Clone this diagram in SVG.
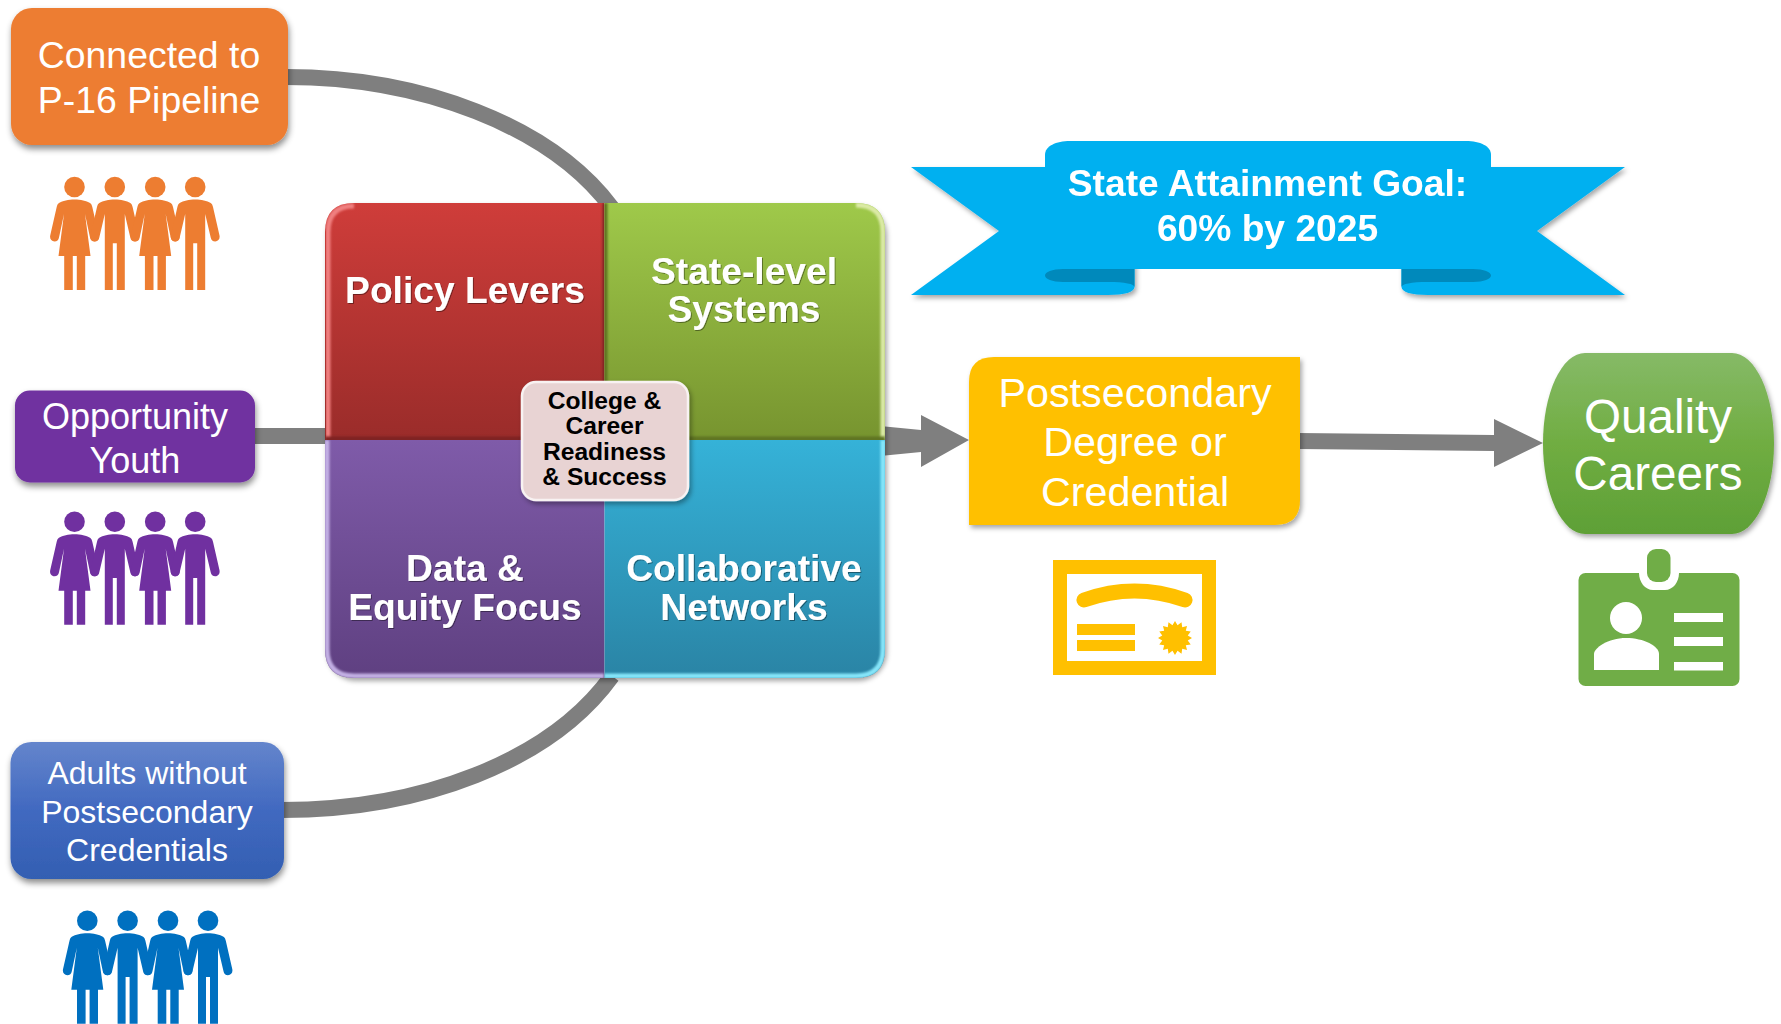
<svg xmlns="http://www.w3.org/2000/svg" width="1781" height="1024" viewBox="0 0 1781 1024">
<style>
text{font-family:"Liberation Sans",Arial,sans-serif;text-anchor:middle;fill:#fff}
.b{font-weight:bold}
.q{font-weight:bold;font-size:37.2px;filter:url(#ts)}
.c{font-weight:bold;font-size:24.6px;fill:#000}
.conn{fill:none;stroke:#7f7f7f}
.bev{fill:none;stroke-width:5;filter:url(#soft)}
</style>
<defs>
<filter id="sh" x="-10%" y="-10%" width="125%" height="130%"><feDropShadow dx="1" dy="4" stdDeviation="3" flood-color="#000" flood-opacity=".45"/></filter>
<filter id="sh2" x="-5%" y="-5%" width="110%" height="112%"><feDropShadow dx="2" dy="3" stdDeviation="2.5" flood-color="#000" flood-opacity=".35"/></filter>
<filter id="ts" x="-5%" y="-10%" width="110%" height="125%"><feDropShadow dx="1" dy="1" stdDeviation=".7" flood-color="#000" flood-opacity=".4"/></filter>
<filter id="soft" x="-5%" y="-5%" width="110%" height="110%"><feGaussianBlur stdDeviation="1"/></filter>
<linearGradient id="gr" x1="0" y1="0" x2="0" y2="1"><stop offset="0" stop-color="#cf3d3a"/><stop offset="1" stop-color="#9a2c2a"/></linearGradient>
<linearGradient id="gg" x1="0" y1="0" x2="0" y2="1"><stop offset="0" stop-color="#9fc94a"/><stop offset="1" stop-color="#77942f"/></linearGradient>
<linearGradient id="gp" x1="0" y1="0" x2="0" y2="1"><stop offset="0" stop-color="#7f5ba9"/><stop offset="1" stop-color="#5f4081"/></linearGradient>
<linearGradient id="gt" x1="0" y1="0" x2="0" y2="1"><stop offset="0" stop-color="#35b2d8"/><stop offset="1" stop-color="#2a84a5"/></linearGradient>
<linearGradient id="gb" x1="0" y1="0" x2="0" y2="1"><stop offset="0" stop-color="#6485cc"/><stop offset=".5" stop-color="#4169c0"/><stop offset="1" stop-color="#335fb2"/></linearGradient>
<linearGradient id="gq" x1="0" y1="0" x2="0" y2="1"><stop offset="0" stop-color="#86ba67"/><stop offset=".5" stop-color="#70ad42"/><stop offset="1" stop-color="#5ea036"/></linearGradient>
<clipPath id="cr"><path d="M604.5,203H354Q325,203 325,232V440H604.5Z"/></clipPath>
<clipPath id="cg"><path d="M604.5,203H856Q885,203 885,232V440H604.5Z"/></clipPath>
<clipPath id="cp"><path d="M604.5,678H354Q325,678 325,649V440H604.5Z"/></clipPath>
<clipPath id="ct"><path d="M604.5,678H856Q885,678 885,649V440H604.5Z"/></clipPath>
<g id="woman"><circle r="10.3"/><path d="M0,12.5C6,12.5 12,14 15.5,16C16.8,16.8 17.3,18 17.8,20L24.3,48.500C25,52 23,54.500 20,54.500C17.5,54.500 16,53 15.500,50.500L10.500,27L16,69H10.700V103H2.300V69H-1.700V103H-10.300V69H-16L-10.500,27L-15.500,50.500C-16,53 -17.500,54.500 -20,54.500C-23,54.500 -25,52 -24.300,48.500L-17.800,20C-17.300,18 -16.800,16.800 -15.500,16C-12,14 -6,12.500 0,12.500Z"/></g>
<g id="man"><circle r="10.3"/><path d="M0,12.5C6,12.5 12,14 15.5,16C16.8,16.8 17.3,18 17.8,20L24.3,48.500C25,52 23,54.500 20,54.500C17.5,54.500 16,53 15.500,50.500L10,27V103H2V56.300H-2V103H-10V27L-15.500,50.500C-16,53 -17.500,54.500 -20,54.500C-23,54.500 -25,52 -24.300,48.500L-17.800,20C-17.300,18 -16.800,16.800 -15.500,16C-12,14 -6,12.500 0,12.500Z"/></g>
<g id="people"><use href="#woman"/><use href="#man" x="40.3"/><use href="#woman" x="80.7"/><use href="#man" x="120.7"/></g>
<g id="tail"><path d="M911,167H1134.5V287C1134.5,292 1125,295 1108,295H911L999,231Z" fill="#00b0f0"/></g>
</defs>

<g id="connectors">
<path class="conn" stroke-width="16" d="M286,77C420,77 550,125 612,208"/>
<path class="conn" stroke-width="16" d="M282,810C420,810 550,762 612,676"/>
<path class="conn" stroke-width="16" d="M252,436H330"/>
<path d="M880,426L921,430V415L969,440L921,467V452L880,456Z" fill="#7f7f7f"/>
<path d="M1298,433L1494,435V419L1543,443L1494,467V451L1298,449Z" fill="#7f7f7f"/>
</g>

<g id="node-pipeline"><rect x="11" y="8" width="277" height="137" rx="21" fill="#ed7d31" filter="url(#sh)"/>
<text x="149" y="68" font-size="37.4">Connected to</text><text x="149" y="113" font-size="37.4">P-16 Pipeline</text></g>
<g id="people-orange" fill="#ed7d31"><use href="#people" transform="translate(74.5,187)"/></g>

<g id="node-youth"><rect x="15" y="390.500" width="240" height="92" rx="15" fill="#7030a0" filter="url(#sh)"/>
<text x="135" y="429" font-size="36">Opportunity</text><text x="135" y="473" font-size="36">Youth</text></g>
<g id="people-purple" fill="#7030a0"><use href="#people" transform="translate(74.5,521.7)"/></g>

<g id="node-adults"><rect x="10.500" y="742" width="273.500" height="137" rx="21" fill="url(#gb)" filter="url(#sh)"/>
<text x="147" y="784" font-size="32">Adults without</text><text x="147" y="823" font-size="32">Postsecondary</text><text x="147" y="861" font-size="32">Credentials</text></g>
<g id="people-blue" fill="#0070c0"><use href="#people" transform="translate(87.3,920.7)"/></g>

<g id="node-matrix">
<rect x="325" y="203" width="560" height="475" rx="29" fill="#fff" filter="url(#sh2)"/>
<g id="q-policy"><path d="M604.5,203H354Q325,203 325,232V440H604.5Z" fill="url(#gr)"/>
<g clip-path="url(#cr)"><path class="bev" stroke="#f08080" d="M328,440V232Q328,206 354,206"/><path class="bev" stroke="#f9b0b0" stroke-width="2" d="M354,204H604"/><path class="bev" stroke="#7e2220" stroke-width="3" d="M325,439H605V203"/></g>
<text class="q" x="465" y="303">Policy Levers</text></g>
<g id="q-state"><path d="M604.5,203H856Q885,203 885,232V440H604.5Z" fill="url(#gg)"/>
<g clip-path="url(#cg)"><path class="bev" stroke="#dbeaa6" d="M883,440V232Q883,205 856,205"/><path class="bev" stroke="#c3dd7a" stroke-width="2" d="M604,204H856"/><path class="bev" stroke="#5e7524" stroke-width="3" d="M605,203V439H885"/></g>
<text class="q" x="744" y="284">State-level</text><text class="q" x="744" y="322">Systems</text></g>
<g id="q-data"><path d="M604.5,678H354Q325,678 325,649V440H604.5Z" fill="url(#gp)"/>
<g clip-path="url(#cp)"><path class="bev" stroke="#c3b0e4" d="M327,440V649Q327,676 354,676H604"/><path class="bev" stroke="#4e3369" stroke-width="2" d="M604,441V678"/></g>
<text class="q" x="465" y="581">Data &amp;</text><text class="q" x="465" y="620">Equity Focus</text></g>
<g id="q-networks"><path d="M604.5,678H856Q885,678 885,649V440H604.5Z" fill="url(#gt)"/>
<g clip-path="url(#ct)"><path class="bev" stroke="#86e6fa" d="M883,440V649Q883,676 856,676H604"/></g>
<text class="q" x="744" y="581">Collaborative</text><text class="q" x="744" y="620">Networks</text></g>
</g>

<g id="node-center"><rect x="522" y="382" width="166" height="118" rx="14" fill="#e8d3d3" stroke="#f8f2f2" stroke-width="2.500" filter="url(#sh2)"/>
<text class="c" x="604.500" y="409">College &amp;</text><text class="c" x="604.500" y="434">Career</text><text class="c" x="604.500" y="460">Readiness</text><text class="c" x="604.500" y="485">&amp; Success</text></g>

<g id="node-goal">
<g filter="url(#sh2)"><use href="#tail"/><use href="#tail" transform="translate(2536,0) scale(-1,1)"/></g>
<path d="M1045,155C1045,146 1056,141 1070,141H1466C1480,141 1491,146 1491,155V269H1045Z" fill="#00b0f0"/>
<path d="M1134.500,269H1063C1052,269 1045,272 1045,275.500C1045,279 1052,282 1063,282H1108C1125,282 1134.500,284 1134.500,287Z" fill="#0089bb"/>
<path d="M1401.500,269H1473C1484,269 1491,272 1491,275.500C1491,279 1484,282 1473,282H1428C1411,282 1401.500,284 1401.500,287Z" fill="#0089bb"/>
<text class="b" x="1267.500" y="196" font-size="37.200">State Attainment Goal:</text><text class="b" x="1267.500" y="241" font-size="37.200">60% by 2025</text></g>

<g id="node-degree"><path d="M994,357H1300V500Q1300,525 1275,525H969V382Q969,357 994,357Z" fill="#ffc000" filter="url(#sh2)"/>
<text x="1135" y="407" font-size="41.300">Postsecondary</text><text x="1135" y="456" font-size="41.300">Degree or</text><text x="1135" y="506" font-size="41.300">Credential</text></g>

<g id="icon-certificate" fill="#ffc000"><path fill-rule="evenodd" d="M1053,560H1216V675H1053ZM1067,574V661H1202V574Z"/>
<path d="M1084,600Q1134.500,582 1185,600" fill="none" stroke="#ffc000" stroke-width="15" stroke-linecap="round"/>
<rect x="1077" y="624" width="58" height="11"/><rect x="1077" y="640" width="58" height="11"/>
<polygon points="1192,638 1187.750,640.540 1190.710,644.510 1185.810,645.220 1187.020,650.020 1182.220,648.810 1181.510,653.710 1177.540,650.750 1175,655 1172.460,650.750 1168.490,653.710 1167.780,648.810 1162.980,650.020 1164.190,645.220 1159.290,644.510 1162.250,640.540 1158,638 1162.250,635.460 1159.290,631.490 1164.190,630.780 1162.980,625.980 1167.780,627.190 1168.490,622.290 1172.460,625.250 1175,621 1177.540,625.250 1181.510,622.290 1182.220,627.190 1187.020,625.980 1185.810,630.780 1190.710,631.490 1187.750,635.460"/></g>

<g id="node-careers"><rect x="1543" y="353" width="231" height="181" rx="42" ry="90" fill="url(#gq)" filter="url(#sh2)"/>
<text x="1658" y="433" font-size="47.600">Quality</text><text x="1658" y="490" font-size="47.600">Careers</text></g>

<g id="icon-badge"><rect x="1578.500" y="573" width="161" height="113" rx="7" fill="#70ad47"/>
<path d="M1639,570V573C1639,582 1645,590 1653,590H1665C1673,590 1679,582 1679,573V570Z" fill="#fff"/>
<rect x="1647" y="549" width="23.500" height="33" rx="9" fill="#70ad47"/>
<g fill="#fff"><ellipse cx="1626" cy="618" rx="16" ry="16"/><path d="M1594,670V654C1594,648 1608,638 1626,638C1644,638 1659,646 1659,654V670Z"/>
<rect x="1674" y="613" width="49" height="9"/><rect x="1674" y="637" width="49" height="9"/><rect x="1674" y="662" width="49" height="8.500"/></g></g>
</svg>
